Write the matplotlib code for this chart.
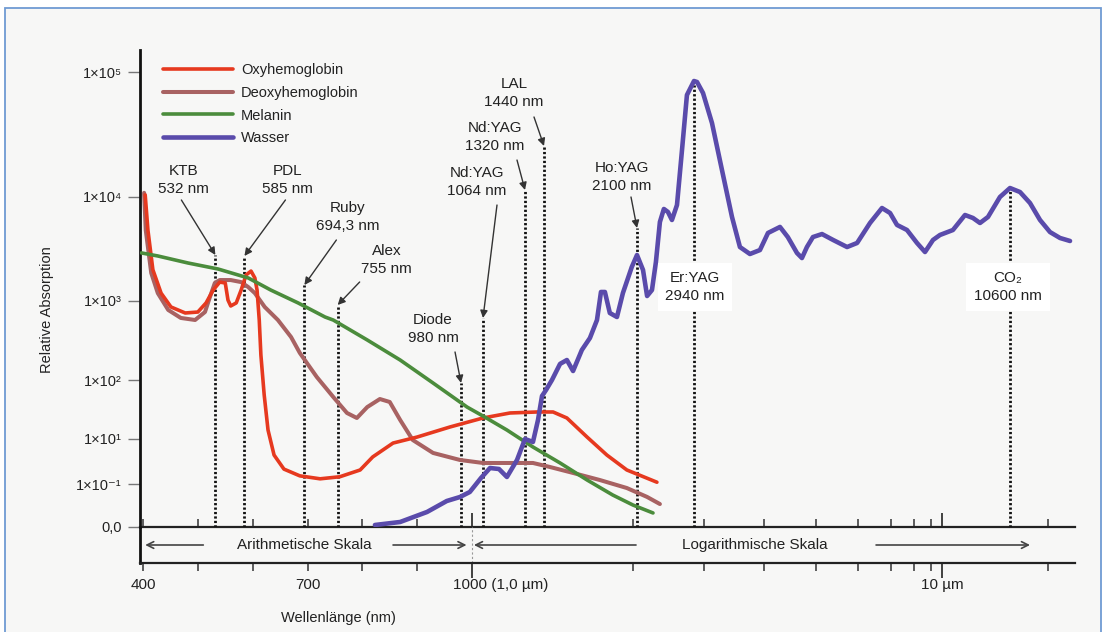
import numpy as np
import matplotlib
matplotlib.use('Agg')
import matplotlib.pyplot as plt
from matplotlib.patches import Rectangle
from matplotlib.ticker import NullLocator
import matplotlib.transforms as mtransforms

plt.rcParams['font.family'] = ['Liberation Sans', 'DejaVu Sans']

# ---------------- data (wavelength in nm, relative absorption) ----------------
OXY_WL = [404, 409, 418, 433, 451, 477, 500, 515, 528, 540, 550, 555, 560, 570, 579, 588, 597, 604,
          608, 612, 615, 621, 628, 639, 657, 686, 723, 759, 796, 819, 856, 900, 960, 1064, 1222, 1395,
          1489, 1567, 1688, 1816, 1955, 2362]
OXY_ABS = [10400, 4800, 2000, 1190, 840, 705, 725, 945, 1275, 1520, 1490, 1020, 865, 945, 1275, 1780, 1940, 1665,
           1275, 574, 207, 56, 14.2, 1.94, 0.46, 0.23, 0.17, 0.21, 0.42, 1.6, 6.6, 10.8, 16, 22.7, 27.6, 28.7,
           28.7, 22.7, 10.8, 1.94, 0.42, 0.12]

DEOXY_WL = [402, 405, 415, 427, 446, 469, 495, 513, 522, 531, 540, 560, 579, 592, 604, 622, 646, 670, 686,
            717, 747, 772, 790, 809, 832, 850, 869, 892, 929, 978, 1064, 1203, 1369, 1472, 1603, 1770, 1955,
            2229, 2404]
DEOXY_ABS = [10800, 4800, 1860, 1190, 770, 610, 575, 725, 1090, 1490, 1590, 1590, 1520, 1360, 1190, 840, 575,
             350, 220, 109, 51.5, 27.6, 22.7, 34.8, 47.6, 42.4, 21, 9.0, 2.4, 1.17, 0.86, 0.86, 0.86, 0.57,
             0.31, 0.15, 0.065, 0.025, 0.0117]

MEL_WL = [397, 427, 482, 537, 592, 633, 683, 732, 747, 809, 869, 929, 991, 1064, 1203, 1369, 1528, 1688,
          1856, 2000, 2308]
MEL_ABS = [2900, 2710, 2320, 2030, 1665, 1275, 944, 627, 574, 321, 179, 88.9, 34.8, 24.5, 14.2, 4.41, 0.86,
           0.151, 0.0307, 0.0105, 0.0045]

WAT_WL = [823, 869, 918, 954, 978, 996, 1052, 1103, 1155, 1203, 1267, 1320, 1369, 1401, 1427, 1451, 1483,
          1528, 1567, 1603, 1656, 1706, 1751, 1777, 1803, 1836, 1885, 1927, 1991, 2100, 2176, 2229, 2294,
          2348, 2404, 2461, 2521, 2581, 2659, 2739, 2820, 2940, 2958, 2994, 3117, 3270, 3431, 3564, 3739,
          3923, 4069, 4284, 4430, 4608, 4707, 4809, 4935, 5132, 5385, 5722, 5977, 6346, 6711, 6969, 7248,
          7681, 8168, 8634, 9174, 9811, 10094, 10199, 10269, 10331, 10402, 10509, 10600, 11614, 12726,
          13944, 15271, 16706, 18286]
WAT_ABS = [0.00124, 0.00171, 0.005, 0.0162, 0.0248, 0.0425, 0.185, 0.514, 0.464, 0.205, 1.17, 10, 7.36, 21,
           53.6, 67.8, 100, 160, 179, 130, 240, 340, 574, 1221, 1221, 705, 627, 1194, 2123, 2768, 1987, 1117,
           1275, 2371, 5754, 7674, 7178, 6012, 8375, 23770, 65460, 84700, 83180, 67920, 39080, 16440, 6427,
           3304, 2831, 3090, 4509, 5152, 4121, 2895, 2589, 3304, 4121, 4403, 3863, 3304, 3614, 5623, 7834,
           7015, 5387, 4815, 3614, 2958, 3863, 4315, 4815, 6714, 6281, 5623, 6427, 10000, 11800, 10960, 8750,
           6012, 4603, 4036, 3776]

SERIES_NAMES = ['Oxyhemoglobin', 'Deoxyhemoglobin', 'Melanin', 'Wasser']

LASER_NAMES = ['KTB', 'PDL', 'Ruby', 'Alex', 'Diode', 'Nd:YAG', 'Nd:YAG', 'LAL', 'Ho:YAG', 'Er:YAG', 'CO₂']
LASER_WL = [532, 585, 694.3, 755, 980, 1064, 1320, 1440, 2100, 2940, 10600]
LASER_WL_LABELS = ['532 nm', '585 nm', '694,3 nm', '755 nm', '980 nm', '1064 nm', '1320 nm', '1440 nm',
                   '2100 nm', '2940 nm', '10600 nm']
LASER_TOP = [2770, 2710, 1425, 890, 89, 609, 11370, 25590, 5035, 78700, 11370]

Y_TICKS = [0, 0.1, 10, 100, 1000, 1e4, 1e5]
Y_TICK_LABELS = ['0,0', '1×10⁻¹', '1×10¹', '1×10²', '1×10³', '1×10⁴', '1×10⁵']
X_MAJOR = [1000, 10000]
X_MINOR = [400, 500, 600, 700, 800, 900, 2000, 3000, 4000, 5000, 6000, 7000, 8000, 9000, 15000]
X_LABEL_WL = [400, 700, 1000, 10000]
X_LABEL_TXT = ['400', '700', '1000 (1,0 µm)', '10 µm']

# ---------------- axis geometry (schematic, non-uniform scales) ----------------
W, H = 1105, 632
LIN_A, LIN_B = 143.0, 329.0 / 600.0          # arithmetic part 400..1000 nm
LOG_WL = np.array([1000, 1064, 1320, 1440, 2000, 2100, 2940, 3000, 4000, 5000, 6000, 7000, 8000, 9000,
                   10000, 10600, 15000, 20000, 40000], float)
LOG_PX = np.array([472, 483, 525, 544, 633, 637, 694, 704, 764, 816, 858, 891, 914, 931, 942, 1010, 1048,
                   1080, 1160], float)
LOG_LWL = np.log10(LOG_WL)
Y_LOG = np.array([-3, -1, 1, 2, 3, 4, 5, 6], float)
Y_POS = H - np.array([527, 484, 439, 380, 301, 197, 72, -53], float)


def x_fwd(l):
    l = np.asarray(l, float)
    lin = LIN_A + (l - 400.0) * LIN_B
    lg = np.interp(np.log10(np.clip(l, 1000.0, None)), LOG_LWL, LOG_PX)
    return np.where(l <= 1000.0, lin, lg)


def x_inv(p):
    p = np.asarray(p, float)
    lin = 400.0 + (p - LIN_A) / LIN_B
    lg = 10 ** np.interp(p, LOG_PX, LOG_LWL)
    return np.where(p <= 472.0, lin, lg)


def y_fwd(v):
    v = np.asarray(v, float)
    return np.interp(np.log10(np.clip(v, 1e-3, None)), Y_LOG, Y_POS)


def y_inv(p):
    p = np.asarray(p, float)
    return 10 ** np.interp(p, Y_POS, Y_LOG)


def fx(px):
    return px / W


def fy(py):
    return 1 - py / H


fig = plt.figure(figsize=(W / 100, H / 100), dpi=100)
fig.patch.set_facecolor('white')
fig.add_artist(Rectangle((fx(5), -0.05), fx(1101) - fx(5), fy(8) + 0.05, transform=fig.transFigure,
                         fc='#f7f7f6', ec='#6f9bd3', lw=1.3, zorder=-10))

ax = fig.add_axes([fx(140), fy(527), fx(1075) - fx(140), fy(50) - fy(527)])
ax.set_facecolor('none')
ax.set_xscale('function', functions=(x_fwd, x_inv))
ax.set_yscale('function', functions=(y_fwd, y_inv))

COLORS = ['#e6391f', '#a86262', '#4b8c3c', '#5a4bab']
line_kw = dict(solid_joinstyle='round', solid_capstyle='round')
h_deoxy, = ax.plot(DEOXY_WL, DEOXY_ABS, color=COLORS[1], lw=2.9, zorder=4, label=SERIES_NAMES[1], **line_kw)
h_oxy, = ax.plot(OXY_WL, OXY_ABS, color=COLORS[0], lw=2.6, zorder=5, label=SERIES_NAMES[0], **line_kw)
h_mel, = ax.plot(MEL_WL, MEL_ABS, color=COLORS[2], lw=2.6, zorder=6, label=SERIES_NAMES[2], **line_kw)
h_wat, = ax.plot(WAT_WL, WAT_ABS, color=COLORS[3], lw=3.3, zorder=7, label=SERIES_NAMES[3], **line_kw)

# dotted laser lines
ax.vlines(LASER_WL, 0, LASER_TOP, colors='#111111', lw=2.0, linestyles=[(0, (0.8, 0.8))], zorder=3)

# label layout (offsets in pixels from line top): text centre, arrow tail
TEXT_OFF = [(-32, 75), (43, 76), (43, 68), (49, 45), (-28, 54), (-6, 136), (-30, 53), (-30, 53), (-15, 51),
            (1, -202), (-2, -97)]
TAIL_OFF = [(-34, 55), (41, 56), (32, 45), (22, 23), (-6, 31), (14, 113), (-8, 30), (-10, 29), (-6, 31),
            None, None]
for name, wl, lab, top, toff, aoff in zip(LASER_NAMES, LASER_WL, LASER_WL_LABELS, LASER_TOP, TEXT_OFF, TAIL_OFF):
    boxed = aoff is None
    ax.annotate(f'{name}\n{lab}', xy=(wl, top), xytext=toff, textcoords='offset pixels', ha='center',
                va='center', fontsize=11, color='#222222', linespacing=1.35, zorder=8,
                bbox=dict(boxstyle='square,pad=0.5', fc='white', ec='none') if boxed else None)
    if not boxed:
        ax.annotate('', xy=(wl, top), xytext=aoff, textcoords='offset pixels', zorder=8,
                    arrowprops=dict(arrowstyle='-|>', color='#333333', lw=1.0, mutation_scale=11,
                                    shrinkA=0, shrinkB=0))

ax.set_xlim(float(x_inv(140)), float(x_inv(1075)))
ax.set_ylim(0, float(y_inv(H - 50)))

for s in ['top', 'right']:
    ax.spines[s].set_visible(False)
ax.spines['left'].set_linewidth(2.0)
ax.spines['left'].set_color('#111111')
ax.spines['bottom'].set_linewidth(1.6)
ax.spines['bottom'].set_color('#222222')

ax.set_yticks(Y_TICKS, Y_TICK_LABELS)
ax.yaxis.set_minor_locator(NullLocator())
ax.tick_params(axis='y', direction='out', length=9, width=1, color='#777777', labelsize=10.5, pad=4,
               labelcolor='#222222')

ax.set_xticks(X_MAJOR)
ax.set_xticks(X_MINOR, minor=True)
ax.tick_params(axis='x', which='both', direction='in', labelbottom=False, color='#333333')
ax.tick_params(axis='x', which='major', length=10, width=1.3)
ax.tick_params(axis='x', which='minor', length=6, width=1.1)

leg = ax.legend(handles=[h_oxy, h_deoxy, h_mel, h_wat], labels=SERIES_NAMES,
                loc='upper left', bbox_to_anchor=(fx(163), fy(63)), bbox_transform=fig.transFigure,
                frameon=False, fontsize=10.5, handlelength=4.8, handletextpad=0.55, labelspacing=0.6,
                borderpad=0, borderaxespad=0)
for t in leg.get_texts():
    t.set_color('#222222')

# ---------------- lower band with scale description ----------------
ax2 = fig.add_axes([fx(140), fy(563), fx(1075) - fx(140), fy(527) - fy(563)], sharex=ax)
ax2.set_facecolor('none')
ax2.set_ylim(0, 1)
ax2.set_yticks([])
for s in ['top', 'right']:
    ax2.spines[s].set_visible(False)
ax2.spines['left'].set_linewidth(2.0)
ax2.spines['left'].set_color('#111111')
ax2.spines['bottom'].set_linewidth(1.6)
ax2.spines['bottom'].set_color('#222222')
ax2.tick_params(axis='x', which='both', direction='out', labelbottom=False, color='#333333')
ax2.tick_params(axis='x', which='major', length=11, width=1.3)
ax2.tick_params(axis='x', which='minor', length=6, width=1.1)

ax2.axvline(1000, color='#999999', lw=0.8, ls=(0, (2, 2)))
arr = dict(arrowstyle='->', color='#444444', lw=1.2, shrinkA=0, shrinkB=0, mutation_scale=12)
ax2.annotate('', xy=(404, 0.5), xytext=(510, 0.5), arrowprops=arr)
ax2.annotate('', xy=(990, 0.5), xytext=(856, 0.5), arrowprops=arr)
ax2.annotate('', xy=(1011, 0.5), xytext=(2075, 0.5), arrowprops=arr)
ax2.annotate('', xy=(12726, 0.5), xytext=(6528, 0.5), arrowprops=arr)
ax2.text(695, 0.5, 'Arithmetische Skala', ha='center', va='center', fontsize=11, color='#222222')
ax2.text(3829, 0.5, 'Logarithmische Skala', ha='center', va='center', fontsize=11, color='#222222')

trans = mtransforms.blended_transform_factory(ax2.transData, ax2.transAxes)
for wl, txt in zip(X_LABEL_WL, X_LABEL_TXT):
    if txt.startswith('1000'):
        ax2.annotate(txt, xy=(wl, -0.61), xycoords=trans, xytext=(-19, 0), textcoords='offset pixels',
                     ha='left', va='center', fontsize=11, color='#222222')
    else:
        ax2.text(wl, -0.61, txt, transform=trans, ha='center', va='center', fontsize=11, color='#222222')

fig.text(fx(338), fy(618), 'Wellenlänge (nm)', ha='center', va='center', fontsize=10.5, color='#222222')
fig.text(fx(47), fy(310), 'Relative Absorption', rotation=90, ha='center', va='center', fontsize=10.5,
         color='#222222')

fig.savefig('out.png', dpi=100, facecolor=fig.get_facecolor())
